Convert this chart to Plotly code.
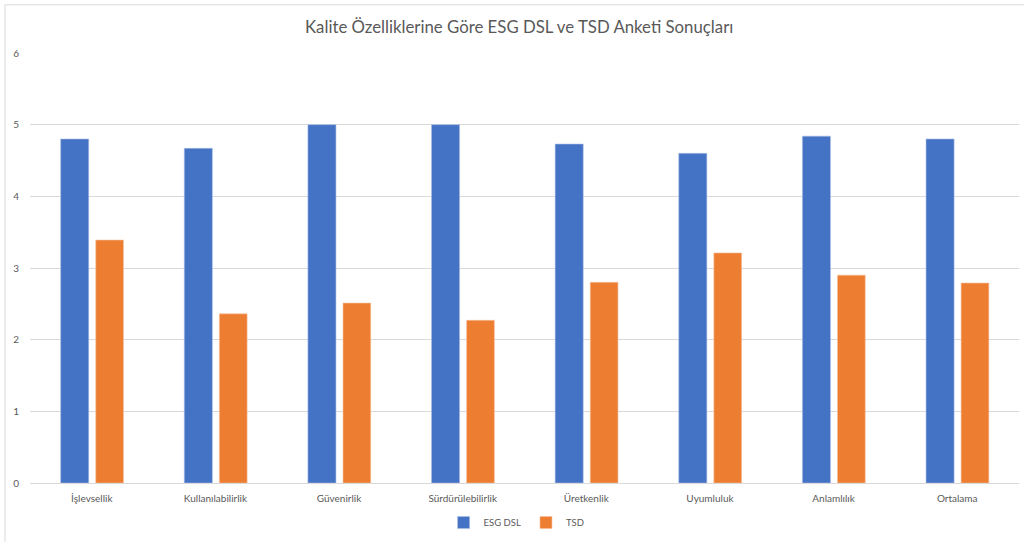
import plotly.graph_objects as go

categories = ["İşlevsellik", "Kullanılabilirlik", "Güvenirlik", "Sürdürülebilirlik",
              "Üretkenlik", "Uyumluluk", "Anlamlılık", "Ortalama"]
esg_dsl = [4.80, 4.67, 5.00, 5.00, 4.73, 4.60, 4.84, 4.80]
tsd = [3.39, 2.36, 2.51, 2.27, 2.80, 3.21, 2.90, 2.79]
series_names = ["ESG DSL", "TSD"]
y_ticks = [0, 1, 2, 3, 4, 5, 6]

FONT = "Lato"
fig = go.Figure()
fig.add_trace(go.Bar(x=categories, y=esg_dsl, name=series_names[0],
                     marker=dict(color="#4472C4", line=dict(color="#A9BDE6", width=0.6)),
                     width=0.227, offset=-0.252))
fig.add_trace(go.Bar(x=categories, y=tsd, name=series_names[1],
                     marker=dict(color="#ED7D31", line=dict(color="#F6BD98", width=0.6)),
                     width=0.224, offset=0.032))

fig.update_layout(
    width=1024, height=542,
    margin=dict(l=30, r=5, t=53, b=57),
    paper_bgcolor="white", plot_bgcolor="white",
    barmode="overlay",
    title=dict(text="Kalite Özelliklerine Göre ESG DSL ve TSD Anketi Sonuçları",
               x=0.507, xref="container", xanchor="center",
               y=1 - 27 / 542, yref="container", yanchor="middle",
               font=dict(family=FONT, size=16.8, color="#595959")),
    font=dict(family=FONT, color="#595959"),
    legend=dict(orientation="h", x=0.492, xanchor="center", y=-0.092, yanchor="middle",
                font=dict(family=FONT, size=9.5, color="#595959"),
                itemwidth=30, traceorder="normal"),
    showlegend=True,
)
fig.update_xaxes(showgrid=False, showline=True, linecolor="#D9D9D9", linewidth=1,
                 ticks="", tickfont=dict(family=FONT, size=10, color="#595959"),
                 ticklabelstandoff=6, fixedrange=True)
fig.update_yaxes(range=[0, 6], tickvals=y_ticks, showgrid=True, gridcolor="#D9D9D9",
                 gridwidth=1, zeroline=False, showline=False, ticks="",
                 tickfont=dict(family=FONT, size=10, color="#595959"),
                 ticklabelstandoff=10, fixedrange=True)

# chart frame (top and left edges visible in reference)
fig.add_shape(type="rect", xref="paper", yref="paper",
              x0=-0.0253, x1=1.04, y0=-0.15, y1=1.112,
              line=dict(color="#D9D9D9", width=1), fillcolor="rgba(0,0,0,0)", layer="below")

fig.write_html("out.html")
